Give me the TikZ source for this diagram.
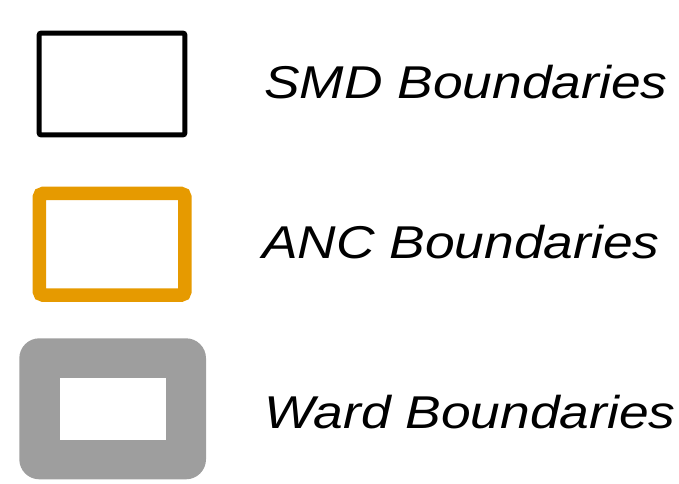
\documentclass[tikz,border=0pt]{standalone}
\usepackage{fontspec}
\setmainfont{Liberation Sans}
\usetikzlibrary {positioning}
\definecolor{ancorange}{HTML}{E69A00}
\definecolor{wardgray}{HTML}{9E9E9E}
\tikzset{
    legendbox/.style={inner sep=0, minimum width=145.7pt, minimum height=101.8pt},
    legendlabel/.style={anchor=base west, inner sep=0, font=\fontsize{46}{50}\selectfont\itshape}
}
\newcommand{\legendtext}[1]{\scalebox{1.16}[1]{#1}}

\begin{document}
\begin{tikzpicture}[x=1pt, y=1pt]
    \useasboundingbox (0, 0) rectangle (679, 483);
    \node[legendbox, draw=black, line width=5pt, rounded corners=2pt] (smd) at (112, 399) {};
    \node[legendbox, draw=ancorange, line width=13.5pt, rounded corners=4pt] (anc) at (112.1, 238.7) {};
    \node[fill=wardgray, inner sep=0, minimum width=186.7pt, minimum height=141pt, rounded corners=20pt] (ward) at (112.65, 74.2) {};
    \node[fill=white, inner sep=0, minimum width=105.7pt, minimum height=61.7pt] (wardhole) at (ward.center) {};
    \node[legendlabel] (smdtext) at (264, 384.7) {\legendtext{SMD Boundaries}};
    \node[legendlabel] (anctext) at (262, 224.7) {\legendtext{ANC Boundaries}};
    \node[legendlabel] (wardtext) at (264, 54.7) {\legendtext{Ward Boundaries}};
\end{tikzpicture}
\end{document}
